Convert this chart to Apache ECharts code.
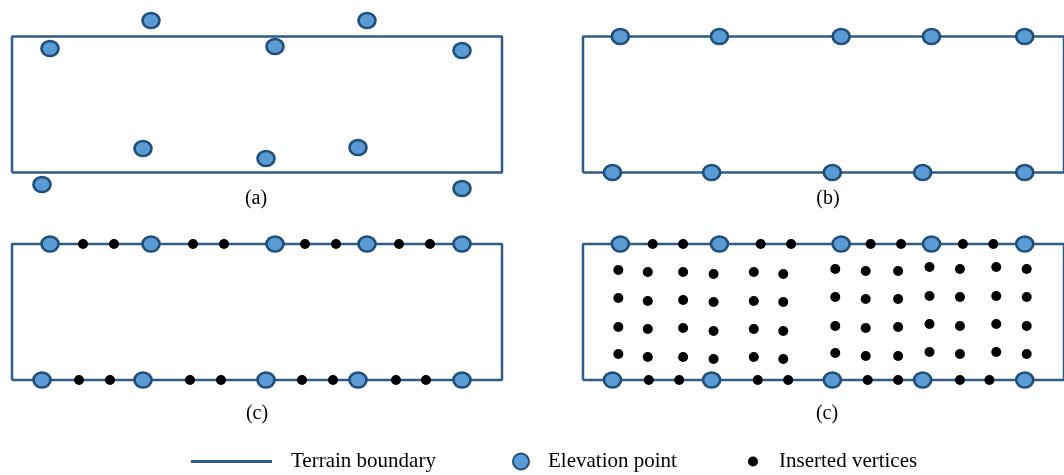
<!DOCTYPE html>
<html>
<head>
<meta charset="utf-8">
<script src="https://cdn.jsdelivr.net/npm/echarts@6/dist/echarts.min.js"></script>
<style>
  html, body { margin: 0; padding: 0; background: #fff; }
  #chart { width: 1064px; height: 475px; }
</style>
</head>
<body>
<div id="chart"></div>
<script>
// Terrain extent (length x height) shared by all four panels
const terrainLength = 490;
const terrainHeight = 136;
const terrainBoundary = [[0, 0], [terrainLength, 0], [terrainLength, terrainHeight], [0, terrainHeight], [0, 0]];

// (a) raw elevation points scattered around the terrain boundary
const rawElevationPoints = [
  [38, 124], [139, 152], [263, 126], [355, 152], [450, 122],
  [30, -12], [131, 24], [254, 14], [346, 25], [450, -16]
];

// (b) elevation points snapped onto the upper / lower boundary
const snappedTopX = [38, 139, 263, 355, 450];
const snappedBottomX = [30, 131, 254, 346, 450];

// (c) vertices inserted along the boundary between elevation points
const insertedTopX = [71, 102, 181, 212, 293, 324, 387, 418];
const insertedBottomX = [67, 98, 178, 209, 290, 321, 384, 414];

// (c, right) interior vertices: column positions and the heights in each column
const interiorX = [36, 66, 102, 133, 174, 204, 257, 288, 321, 353, 384, 421, 452];
const interiorY = [
  [110, 82, 53, 26],
  [108, 79, 51, 23],
  [108, 80, 52, 23],
  [106, 78, 49, 21],
  [108, 79, 51, 23],
  [106, 78, 49, 21],
  [111, 83, 54, 27],
  [109, 81, 52, 24],
  [109, 81, 53, 24],
  [113, 84, 56, 28],
  [111, 83, 54, 26],
  [113, 84, 56, 28],
  [111, 83, 54, 26]
];

const panelLabels = ['(a)', '(b)', '(c)', '(c)'];
const legendNames = ['Terrain boundary', 'Elevation point', 'Inserted vertices'];

const serif = '"Liberation Serif", "Times New Roman", serif';
const lineColor = '#2E5B8A';
const pointFill = '#5B9BD5';
const pointBorder = '#1F4E79';

const snappedPoints = snappedTopX.map(x => [x, terrainHeight])
  .concat(snappedBottomX.map(x => [x, 0]));
const insertedEdge = insertedTopX.map(x => [x, terrainHeight])
  .concat(insertedBottomX.map(x => [x, 0]));
const interiorPoints = [];
interiorX.forEach((x, i) => interiorY[i].forEach(y => interiorPoints.push([x, y])));

// panel boxes: [left, top] of each terrain rectangle
const panelBoxes = [[12, 36.5], [583, 36.5], [12, 244], [583, 244]];

const grids = panelBoxes.map(([l, t]) => ({ left: l, top: t, width: 490, height: 136, containLabel: false }));
const xAxes = panelBoxes.map((_, i) => ({ type: 'value', gridIndex: i, min: 0, max: terrainLength, show: false }));
const yAxes = panelBoxes.map((_, i) => ({ type: 'value', gridIndex: i, min: 0, max: terrainHeight, show: false }));

function boundarySeries(i) {
  return {
    name: legendNames[0], type: 'line', xAxisIndex: i, yAxisIndex: i,
    data: terrainBoundary, symbol: 'none', clip: false, silent: true, z: 1,
    lineStyle: { color: lineColor, width: 2.5 }, itemStyle: { color: lineColor }
  };
}
function elevationSeries(i, data) {
  return {
    name: legendNames[1], type: 'scatter', xAxisIndex: i, yAxisIndex: i,
    data: data, symbol: 'circle', symbolSize: [17, 15], clip: false, silent: true, z: 3,
    itemStyle: { color: pointFill, borderColor: pointBorder, borderWidth: 2.5, opacity: 1 }
  };
}
function insertedSeries(i, data) {
  return {
    name: legendNames[2], type: 'scatter', xAxisIndex: i, yAxisIndex: i,
    data: data, symbol: 'circle', symbolSize: 10, clip: false, silent: true, z: 4,
    itemStyle: { color: '#000', opacity: 1 }
  };
}

const series = [
  boundarySeries(0), elevationSeries(0, rawElevationPoints),
  boundarySeries(1), elevationSeries(1, snappedPoints),
  boundarySeries(2), elevationSeries(2, snappedPoints), insertedSeries(2, insertedEdge),
  boundarySeries(3), elevationSeries(3, snappedPoints), insertedSeries(3, insertedEdge.concat(interiorPoints))
];

const legendText = { fontFamily: serif, fontSize: 21, color: '#000' };
const legends = [
  { data: [{ name: legendNames[0], icon: 'rect' }], left: 191, top: 451, itemWidth: 81, itemHeight: 3,
    itemStyle: { color: lineColor }, textStyle: Object.assign({ padding: [0, 0, 0, 14] }, legendText) },
  { data: [legendNames[1]], left: 512, top: 451, itemWidth: 18, itemHeight: 16,
    textStyle: Object.assign({ padding: [0, 0, 0, 13] }, legendText) },
  { data: [legendNames[2]], left: 748, top: 451, itemWidth: 10, itemHeight: 10,
    textStyle: Object.assign({ padding: [0, 0, 0, 16] }, legendText) }
].map(l => Object.assign({ selectedMode: false, padding: 0, itemGap: 0 }, l));

const labelPos = [[256, 199], [828, 199], [257, 414], [827, 414]];
const graphics = panelLabels.map((t, i) => ({
  type: 'text', x: labelPos[i][0], y: labelPos[i][1], silent: true,
  style: { text: t, fill: '#000', font: '20px ' + serif, textAlign: 'center', textVerticalAlign: 'middle' }
}));

const chart = echarts.init(document.getElementById('chart'), null, { renderer: 'canvas' });
chart.setOption({
  animation: false,
  backgroundColor: '#fff',
  grid: grids,
  xAxis: xAxes,
  yAxis: yAxes,
  legend: legends,
  graphic: graphics,
  series: series
});
</script>
</body>
</html>
